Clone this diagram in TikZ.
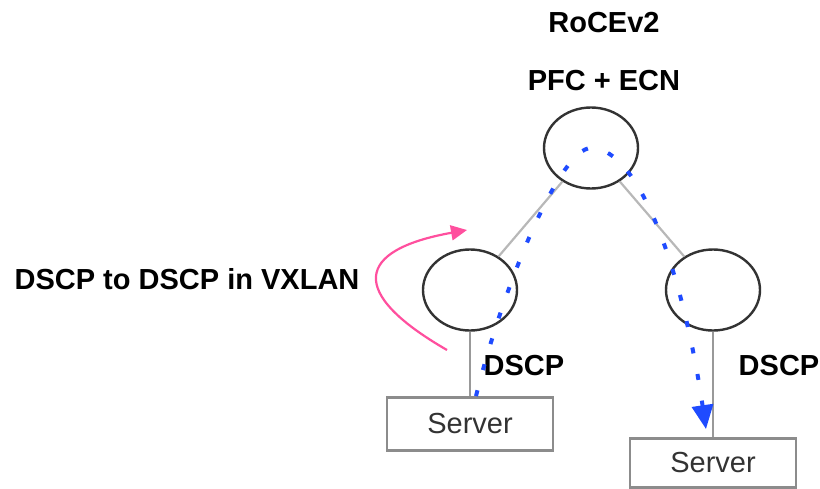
\documentclass[tikz,border=0pt]{standalone}
\usepackage{fontspec}
\setmainfont{Liberation Sans}
\usepackage{xcolor}
\usepackage{tikz}
\usetikzlibrary{arrows.meta,calc,shapes.geometric}

\definecolor{flowblue}{HTML}{1F4BFF}
\definecolor{remappink}{HTML}{FF4F9E}
\definecolor{linkgray}{HTML}{B8B8B8}

\tikzset{
  swnode/.style={ellipse, draw=black!80, line width=2.4pt, minimum width=94pt, minimum height=81pt, inner sep=0pt},
  srvbox/.style={rectangle, draw=black!45, line width=2.8pt, minimum width=166pt, minimum height=53pt, font=\fontsize{29}{34}\selectfont, text=black!80},
  lbl/.style={font=\bfseries\fontsize{29}{34}\selectfont, anchor=base},
  treelink/.style={draw=linkgray, line width=2.2pt},
  hostlink/.style={draw=black!40, line width=2.8pt},
  dscpflow/.style={draw=flowblue, line width=4pt, dash pattern=on 6pt off 21pt, -{Triangle[length=24pt,width=21pt]}},
  remaparrow/.style={draw=remappink, line width=2.2pt, -{Triangle[length=16pt,width=15pt]}}
}

\begin{document}
\begin{tikzpicture}[x=1pt,y=-1pt]
  \useasboundingbox (0,0) rectangle (820,488);

  % switches
  \node[swnode] (spine) at (591,148) {};
  \node[swnode] (leafL) at (470,290) {};
  \node[swnode] (leafR) at (713,290) {};

  % servers
  \node[srvbox] (srvL) at (470,424) {Server};
  \node[srvbox, minimum height=49pt] (srvR) at (713,463) {Server};

  \draw[treelink] (spine) -- (leafL);
  \draw[treelink] (spine) -- (leafR);
  \draw[hostlink] (leafL.south) -- (srvL.north);
  \draw[hostlink] (leafR.south) -- (srvR.north);

  % labels
  \node[lbl] (roce) at (604,32) {RoCEv2};
  \node[lbl] (pfc) at (604,90) {PFC + ECN};
  \node[lbl] (remaptxt) at (187,289) {DSCP to DSCP in VXLAN};
  \node[lbl] (dscpL) at (524,375) {DSCP};
  \node[lbl] (dscpR) at (779,375) {DSCP};

  % traffic path
  \coordinate (flowin) at ($(srvL.north)+(6,0)$);
  \coordinate (flowout) at ($(srvR.north)+(-7,-8)$);
  \draw[dscpflow] (flowin) .. controls ($(flowin)+(29,-116)$) and ($(spine)+(-30,0)$) .. (spine.center)
    .. controls ($(spine)+(50,0)$) and ($(flowout)+(-22,-150)$) .. (flowout);

  % remarking
  \coordinate (remapfrom) at (447,350);
  \coordinate (remapto) at (467,230);
  \draw[remaparrow] (remapfrom) .. controls ($(remapfrom)+(-99,-57)$) and ($(remapto)+(-112,20)$) .. (remapto);
\end{tikzpicture}
\end{document}
